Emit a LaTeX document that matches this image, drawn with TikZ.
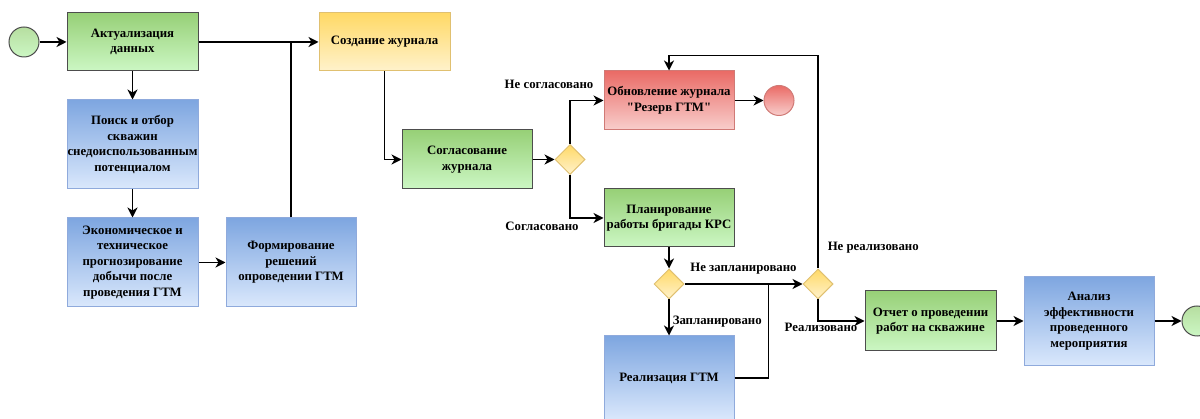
\documentclass[tikz,border=0pt]{standalone}
\usepackage{fontspec}
\setmainfont{Liberation Serif}[Ligatures=TeXOff]
\usetikzlibrary{arrows.meta, shapes.geometric}

\definecolor{greentop}{HTML}{97D077}
\definecolor{greenbot}{HTML}{CCF7C4}
\definecolor{greenline}{HTML}{4D4D4D}
\definecolor{bluetop}{HTML}{7EA6E0}
\definecolor{bluebot}{HTML}{DAE8FC}
\definecolor{blueline}{HTML}{8FAADC}
\definecolor{yellowtop}{HTML}{FFD966}
\definecolor{yellowbot}{HTML}{FFF2CC}
\definecolor{yellowline}{HTML}{E0C070}
\definecolor{redtop}{HTML}{EA6B66}
\definecolor{redbot}{HTML}{F8CECC}
\definecolor{redline}{HTML}{D07A76}

\begin{document}
\begin{tikzpicture}[x=1pt, y=1pt, ->, >={Stealth[length=10pt,width=10pt,inset=3pt]},
  line width=1.5pt, node distance=100pt,
  every node/.style={font=\bfseries\fontsize{12.8}{15.5}\selectfont, align=center},
  box/.style={rectangle, line width=1pt, minimum width=131pt, minimum height=58pt, inner sep=2pt},
  green box/.style={box, draw=greenline, top color=greentop, bottom color=greenbot},
  blue box/.style={box, draw=blueline, top color=bluetop, bottom color=bluebot},
  yellow box/.style={box, draw=yellowline, top color=yellowtop, bottom color=yellowbot},
  red box/.style={box, draw=redline, top color=redtop, bottom color=redbot},
  gate/.style={diamond, draw=yellowline, line width=1pt, top color=yellowtop, bottom color=yellowbot,
    minimum size=30pt, inner sep=0pt},
  start/.style={circle, draw=greenline, line width=1pt, top color=greentop!70, bottom color=greenbot,
    minimum size=30pt, inner sep=0pt},
  stop/.style={circle, draw=redline, line width=1pt, top color=redtop, bottom color=redbot,
    minimum size=30pt, inner sep=0pt},
  lbl/.style={font=\bfseries\fontsize{12.8}{15.5}\selectfont, inner sep=0pt}]

  \fill[-, white] (0,0) rectangle (1200,-419);
  \useasboundingbox (0,0) rectangle (1200,-419);

  % left part
  \node[start] (1) at (24,-42) {};
  \node[green box] (2) [right of=1, node distance=108.5pt] {Актуализация\\данных};
  \node[yellow box] (3) [right of=2, node distance=252pt] {Создание журнала};
  \node[blue box, minimum height=89pt] (4) [below of=2, node distance=102.5pt]
    {Поиск и отбор\\скважин\\\makebox[120pt]{снедоиспользованным}\\потенциалом};
  \node[blue box, minimum height=89pt] (5) [below of=4, node distance=118pt]
    {Экономическое и\\техническое\\прогнозирование\\добычи после\\проведения ГТМ};
  \node[blue box, minimum height=89pt, minimum width=130pt] (6) [right of=5, node distance=158.5pt]
    {Формирование\\решений\\опроведении ГТМ};

  % journal
  \node[green box, minimum width=130pt, minimum height=59pt] (7) at (467,-159.5) {Согласование\\журнала};
  \node[gate] (8) [right of=7, node distance=103pt] {};
  \node[red box, minimum width=130pt, minimum height=59pt] (9) at (669,-100.5)
    {Обновление журнала\\"Резерв ГТМ"};
  \node[stop] (10) [right of=9, node distance=110pt] {};
  \node[green box, minimum width=130pt] (11) [below of=9, node distance=117.5pt] {Планирование\\работы бригады КРС};
  \node[gate] (12) [below of=11, node distance=66pt] {};
  \node[blue box, minimum width=130pt, minimum height=84pt] (13) [below of=12, node distance=94pt] {Реализация ГТМ};
  \node[gate] (14) [right of=12, node distance=149pt] {};

  % report
  \node[green box, minimum height=60pt] (15) at (930.5,-321) {Отчет о проведении\\работ на скважине};
  \node[blue box, minimum width=130pt, minimum height=89pt] (16) [right of=15, node distance=158.5pt]
    {Анализ\\эффективности\\проведенного\\мероприятия};
  \node[start] (17) [right of=16, node distance=108pt] {};

  \path
    (1) edge (2)
    (2) edge (3)
        edge (4)
    (4) edge (5)
    (5) edge (6)
    (7) edge (8)
    (9) edge (10)
    (11) edge (12)
    (12) edge node[lbl, yshift=15pt] {Не запланировано} (14)
         edge node[lbl, right, xshift=3pt, yshift=-4pt] {Запланировано} (13)
    (15) edge (16)
    (16) edge (17);

  \draw[-] (6.north) -- (6.north |- 2.east);
  \draw (3.south) |- (7.west);
  \draw (8.north) |- node[lbl, xshift=-21pt, yshift=16pt] {Не согласовано} (9.west);
  \draw (8.south) |- node[lbl, xshift=-28pt, yshift=-8pt] {Согласовано} (11.west);
  \draw[-] (13.east) -| ([xshift=84pt]12.east);
  \draw (14.north) |- node[lbl, pos=0.05, right, xshift=9pt] {Не реализовано} ([yshift=15pt]9.north) -- (9.north);
  \draw (14.south) |- node[lbl, xshift=3pt, yshift=-6pt] {Реализовано} (15.west);
\end{tikzpicture}
\end{document}
